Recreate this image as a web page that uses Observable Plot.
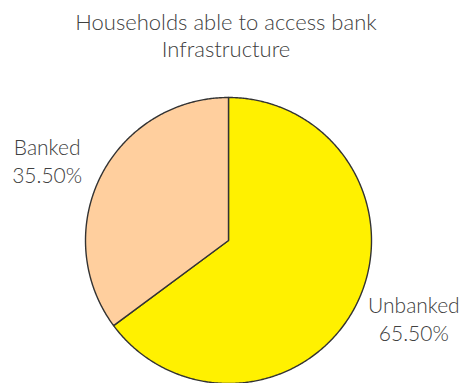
<!DOCTYPE html>
<html><head><meta charset="utf-8">
<script src="https://cdn.jsdelivr.net/npm/d3@7"></script>
<script src="https://cdn.jsdelivr.net/npm/@observablehq/plot@0.6"></script>
<style>
html,body{margin:0;padding:0;background:#fff;}
#title{width:452px;height:70px;text-align:center;font-family:Lato,"Open Sans",sans-serif;font-weight:300;font-size:22px;line-height:27px;color:#404040;padding-top:8px;box-sizing:border-box;}
#chart svg{display:block;}
</style>
</head><body>
<div id="title">Households able to access bank<br>Infrastructure</div>
<div id="chart"></div>
<script>
const categories = ["Unbanked", "Banked"];
const values = [65.5, 35.5];
const labels = ["65.50%", "35.50%"];
const colors = ["#FFF100", "#FFCF9E"];

const total = d3.sum(values);
const pts = [];
const labelRows = [];
let start = 0;
categories.forEach((c, i) => {
  const sweep = values[i] / total * 2 * Math.PI;
  const end = start + sweep;
  pts.push({cat: c, x: 0, y: 0});
  const n = Math.max(2, Math.ceil(sweep / (Math.PI / 360)));
  for (let k = 0; k <= n; k++) {
    const a = start + sweep * k / n;
    pts.push({cat: c, x: Math.sin(a), y: Math.cos(a)});
  }
  const mid = (start + end) / 2;
  labelRows.push({cat: c, text: c + "\n" + labels[i], x: 1.42 * Math.sin(mid), y: 1.42 * Math.cos(mid)});
  start = end;
});

const W = 464, H = 313, R = 143, CX = 228, CY = 170;
const chart = Plot.plot({
  width: W, height: H,
  margin: 0,
  x: {domain: [-CX / R, (W - CX) / R], axis: null},
  y: {domain: [-(H - CY) / R, CY / R], axis: null},
  color: {domain: categories, range: colors},
  style: {fontFamily: "Lato, 'Open Sans', sans-serif"},
  marks: [
    Plot.line(pts, {x: "x", y: "y", z: "cat", fill: "cat", stroke: "#333", strokeWidth: 1.4, curve: "linear-closed", strokeLinejoin: "round"}),
    Plot.text(labelRows.filter(d => d.cat === "Banked"), {x: "x", y: "y", text: "text", fontSize: 21, fontWeight: 300, fill: "#404040", lineHeight: 1.33, dy: 11}),
    Plot.text(labelRows.filter(d => d.cat === "Unbanked"), {x: "x", y: "y", text: "text", fontSize: 21, fontWeight: 300, fill: "#404040", lineHeight: 1.33, dx: 4, dy: -14})
  ]
});
document.getElementById("chart").appendChild(chart);
</script>
</body></html>
